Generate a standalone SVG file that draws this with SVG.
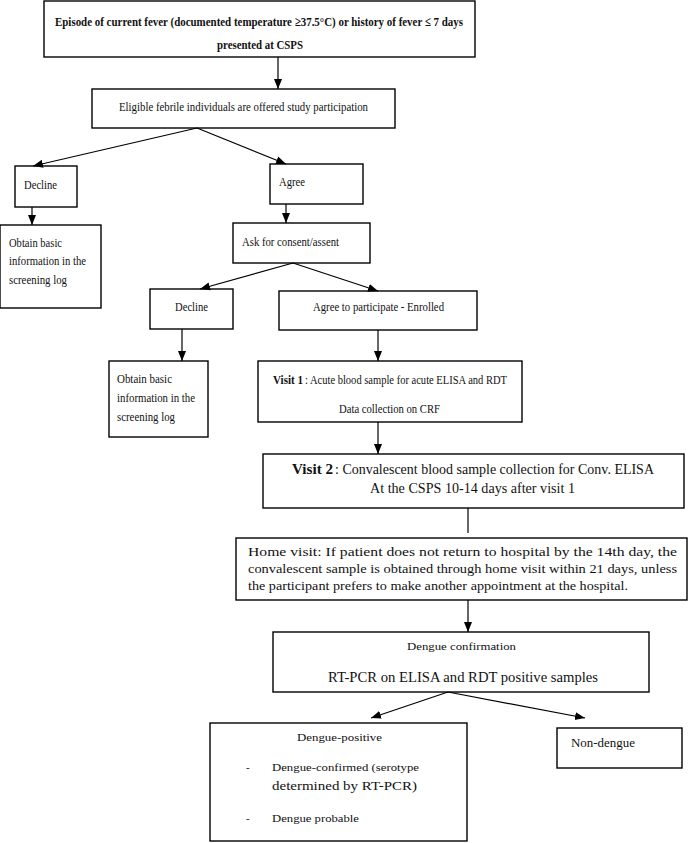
<svg xmlns="http://www.w3.org/2000/svg" width="689" height="843" viewBox="0 0 689 843">
<style>
.box{fill:#fff;stroke:#000;stroke-width:1.4}
.t{font-family:"Liberation Serif","Times New Roman",serif;font-size:13px;fill:#111}
.b{font-weight:bold}
.s{font-size:11px}
.l{font-size:14px}
.c{stroke:#000;stroke-width:1.2;fill:none}
</style>
<defs>
<marker id="ah" markerUnits="userSpaceOnUse" markerWidth="10" markerHeight="10" viewBox="0 0 10 10" refX="10" refY="5" orient="auto">
<path d="M0,1 L10,5 L0,9 Z" fill="#000"/>
</marker>
</defs>
<rect width="689" height="843" fill="#fff"/>
<g id="n1"><rect class="box" x="44" y="1" width="431" height="56"/>
<text class="t b" x="55" y="26" textLength="408" lengthAdjust="spacingAndGlyphs">Episode of current fever (documented temperature  ≥37.5°C) or history of fever ≤ 7 days</text>
<text class="t b" x="217" y="49" textLength="86" lengthAdjust="spacingAndGlyphs">presented at CSPS</text></g>
<g id="n2"><rect class="box" x="92" y="89" width="303" height="39"/>
<text class="t" x="119" y="111" textLength="249" lengthAdjust="spacingAndGlyphs">Eligible febrile individuals are offered study participation</text></g>
<g id="n3"><rect class="box" x="15" y="166" width="62" height="41"/>
<text class="t" x="24" y="189" textLength="33" lengthAdjust="spacingAndGlyphs">Decline</text></g>
<g id="n4"><rect class="box" x="270" y="164" width="93" height="40"/>
<text class="t" x="279" y="186" textLength="26" lengthAdjust="spacingAndGlyphs">Agree</text></g>
<g id="n5"><rect class="box" x="0" y="225" width="101" height="83"/>
<text class="t" x="9" y="247" textLength="53" lengthAdjust="spacingAndGlyphs">Obtain basic</text>
<text class="t" x="9" y="265" textLength="77" lengthAdjust="spacingAndGlyphs">information in the</text>
<text class="t" x="9" y="284" textLength="58" lengthAdjust="spacingAndGlyphs">screening log</text></g>
<g id="n6"><rect class="box" x="233" y="223" width="137" height="40"/>
<text class="t" x="242" y="246" textLength="97" lengthAdjust="spacingAndGlyphs">Ask for consent/assent</text></g>
<g id="n7"><rect class="box" x="150" y="289" width="83" height="40"/>
<text class="t" x="175" y="311" textLength="33" lengthAdjust="spacingAndGlyphs">Decline</text></g>
<g id="n8"><rect class="box" x="279" y="291" width="198" height="39"/>
<text class="t" x="313" y="311" textLength="131" lengthAdjust="spacingAndGlyphs">Agree to participate - Enrolled</text></g>
<g id="n9"><rect class="box" x="109" y="361" width="99" height="76"/>
<text class="t" x="117" y="383" textLength="55" lengthAdjust="spacingAndGlyphs">Obtain basic</text>
<text class="t" x="117" y="402" textLength="78" lengthAdjust="spacingAndGlyphs">information in the</text>
<text class="t" x="117" y="421" textLength="58" lengthAdjust="spacingAndGlyphs">screening log</text></g>
<g id="n10"><rect class="box" x="258" y="361" width="264" height="61"/>
<text class="t b" x="273" y="384" textLength="30" lengthAdjust="spacingAndGlyphs">Visit 1</text>
<text class="t" x="305" y="384" textLength="202" lengthAdjust="spacingAndGlyphs">: Acute blood sample for acute ELISA and RDT</text>
<text class="t" x="339" y="413" textLength="101" lengthAdjust="spacingAndGlyphs">Data collection on CRF</text></g>
<g id="n11"><rect class="box" x="263" y="454" width="421" height="54"/>
<text class="t l b" x="292" y="474" textLength="41" lengthAdjust="spacingAndGlyphs">Visit 2</text>
<text class="t l" x="335" y="474" textLength="319" lengthAdjust="spacingAndGlyphs">: Convalescent blood sample collection for Conv. ELISA</text>
<text class="t l" x="370" y="493" textLength="205" lengthAdjust="spacingAndGlyphs">At the CSPS 10-14 days after visit 1</text></g>
<g id="n12"><rect class="box" x="236" y="538" width="451" height="62"/>
<text class="t" x="248" y="556" textLength="429" lengthAdjust="spacingAndGlyphs">Home visit: If patient does not return to hospital by the 14th day, the</text>
<text class="t" x="248" y="573" textLength="429" lengthAdjust="spacingAndGlyphs">convalescent sample is obtained through home visit within 21 days, unless</text>
<text class="t" x="248" y="590" textLength="380" lengthAdjust="spacingAndGlyphs">the participant prefers to make another appointment at the hospital.</text></g>
<g id="n13"><rect class="box" x="273" y="632" width="376" height="60"/>
<text class="t s" x="407" y="650" textLength="109" lengthAdjust="spacingAndGlyphs">Dengue confirmation</text>
<text class="t l" x="328" y="682" textLength="270" lengthAdjust="spacingAndGlyphs">RT-PCR on ELISA and RDT positive samples</text></g>
<g id="n14"><rect class="box" x="210" y="723" width="257" height="118"/>
<text class="t s" x="297" y="741" textLength="85" lengthAdjust="spacingAndGlyphs">Dengue-positive</text>
<text class="t s" x="246" y="771">-</text>
<text class="t s" x="272" y="771" textLength="147" lengthAdjust="spacingAndGlyphs">Dengue-confirmed (serotype</text>
<text class="t" x="272" y="790" textLength="145" lengthAdjust="spacingAndGlyphs">determined by RT-PCR)</text>
<text class="t s" x="246" y="822">-</text>
<text class="t s" x="272" y="822" textLength="87" lengthAdjust="spacingAndGlyphs">Dengue probable</text></g>
<g id="n15"><rect class="box" x="557" y="728" width="125" height="40"/>
<text class="t" x="571" y="747" textLength="64" lengthAdjust="spacingAndGlyphs">Non-dengue</text></g>
<g id="connectors">
<line class="c" x1="278" y1="57" x2="278" y2="89" marker-end="url(#ah)"/>
<line class="c" x1="197" y1="128" x2="33" y2="166" marker-end="url(#ah)"/>
<line class="c" x1="197" y1="128" x2="286" y2="164" marker-end="url(#ah)"/>
<line class="c" x1="32" y1="207" x2="32" y2="225" marker-end="url(#ah)"/>
<line class="c" x1="286" y1="204" x2="286" y2="223" marker-end="url(#ah)"/>
<line class="c" x1="293" y1="263" x2="200" y2="289" marker-end="url(#ah)"/>
<line class="c" x1="293" y1="263" x2="378" y2="291" marker-end="url(#ah)"/>
<line class="c" x1="182" y1="329" x2="182" y2="361" marker-end="url(#ah)"/>
<line class="c" x1="378" y1="330" x2="378" y2="361" marker-end="url(#ah)"/>
<line class="c" x1="378" y1="422" x2="378" y2="454" marker-end="url(#ah)"/>
<line class="c" x1="468" y1="508" x2="468" y2="533"/>
<line class="c" x1="468" y1="600" x2="468" y2="632" marker-end="url(#ah)"/>
<line class="c" x1="448" y1="692" x2="371" y2="718" marker-end="url(#ah)"/>
<line class="c" x1="448" y1="692" x2="585" y2="718" marker-end="url(#ah)"/>
</g>
</svg>
